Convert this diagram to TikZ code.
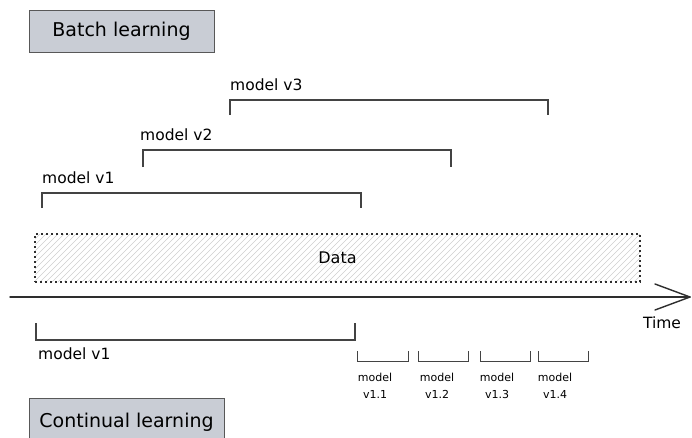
\documentclass[tikz,border=0pt]{standalone}
\usepackage{fontspec}
\setmainfont{DejaVu Sans}
\definecolor{boxfill}{HTML}{C9CDD5}
\definecolor{ink}{HTML}{2E2E2E}
\definecolor{hatch}{HTML}{CFCFCF}
\begin{document}
\begin{tikzpicture}[x=1pt,y=-1pt,
  titlebox/.style={draw=ink!80, line width=1pt, fill=boxfill, inner sep=0pt,
    font=\fontsize{19}{22}\selectfont},
  lbl/.style={anchor=west, inner sep=0pt, font=\fontsize{15.5}{18}\selectfont},
  smalllbl/.style={align=center, inner sep=0pt, font=\fontsize{11}{17}\selectfont},
  bracketline/.style={draw=ink!90, line width=1.1pt},
  hatchline/.style={draw=hatch, line width=0.6pt},
  axisline/.style={draw=ink, line width=1.4pt, line cap=round}]
\clip (0,0) rectangle (692,437);
\fill[white] (0,0) rectangle (692,437);

% section headings
\node[titlebox, minimum width=185pt, minimum height=42pt] (batch) at (121.5,31) {Batch learning};
\node[titlebox, minimum width=195pt, minimum height=48pt] (cont) at (126.5,422) {Continual learning};

% batch-trained models: each one spans a growing window of data
\node[lbl] (v3lbl) at (230,85) {model v3};
\coordinate (v3a) at (230,115); \coordinate (v3b) at (230,100);
\coordinate (v3c) at (548,100); \coordinate (v3d) at (548,115);
\draw[bracketline] (v3a) -- (v3b) -- (v3c) -- (v3d);

\node[lbl] (v2lbl) at (140,135) {model v2};
\coordinate (v2a) at (143,167); \coordinate (v2b) at (143,150);
\coordinate (v2c) at (451,150); \coordinate (v2d) at (451,167);
\draw[bracketline] (v2a) -- (v2b) -- (v2c) -- (v2d);

\node[lbl] (v1lbl) at (42,178) {model v1};
\coordinate (v1a) at (42,208); \coordinate (v1b) at (42,193);
\coordinate (v1c) at (361,193); \coordinate (v1d) at (361,208);
\draw[bracketline] (v1a) -- (v1b) -- (v1c) -- (v1d);

% the data stream: hatched band with a dotted outline
\begin{scope}
  \clip (35,234) rectangle (640,282);
  \foreach \x in {-20,-14,...,650}{
    \draw[hatchline] (\x,282) -- ++(48,-48);
  }
\end{scope}
\node[draw=ink, line width=1.4pt, dash pattern=on 1.6pt off 3.4pt,
      minimum width=605pt, minimum height=48pt, inner sep=0pt,
      font=\fontsize{16}{19}\selectfont] (data) at (337.5,258) {Data};

% time axis with an open arrow head
\coordinate (t0) at (10,297); \coordinate (t1) at (690,297);
\coordinate (h1) at (655,284); \coordinate (h2) at (655,310);
\draw[axisline] (t0) -- (t1);
\draw[axisline, line join=round] (h1) -- (t1) -- (h2);
\node[inner sep=0pt, font=\fontsize{15.5}{18}\selectfont] (time) at (662,323) {Time};

% continual learning: one initial model, then small incremental updates
\coordinate (c1a) at (36,323); \coordinate (c1b) at (36,340);
\coordinate (c1c) at (355,340); \coordinate (c1d) at (355,323);
\draw[bracketline] (c1a) -- (c1b) -- (c1c) -- (c1d);
\node[lbl] (c1lbl) at (38,354) {model v1};

\foreach \xa/\xb/\xl/\ver/\id in {357/408/375/v1.1/a, 418/468/437/v1.2/b, 480/530/497/v1.3/c, 538/588/555/v1.4/d}{
  \coordinate (s\id1) at (\xa,351); \coordinate (s\id2) at (\xa,361);
  \coordinate (s\id3) at (\xb,361); \coordinate (s\id4) at (\xb,351);
  \draw[bracketline, line width=0.9pt] (s\id1) -- (s\id2) -- (s\id3) -- (s\id4);
  \node[smalllbl] (upd\id) at (\xl,386) {model\\\ver};
}
\end{tikzpicture}
\end{document}
